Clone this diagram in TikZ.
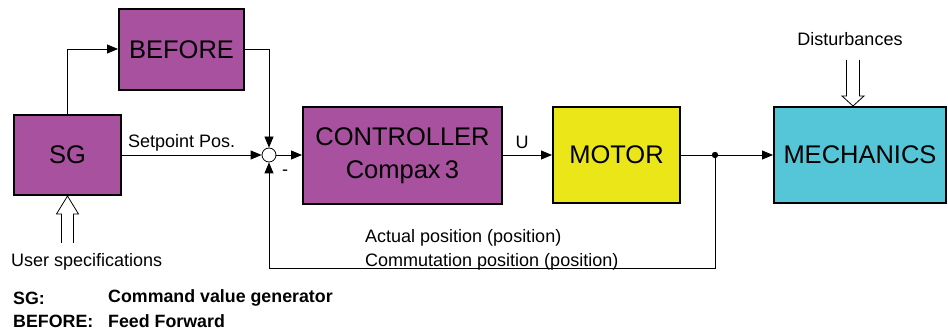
\documentclass[tikz,border=0pt]{standalone}
\usepackage{fontspec}
\setmainfont{Liberation Sans}
\usetikzlibrary{arrows.meta,calc}
\definecolor{purp}{HTML}{A8519F}
\definecolor{yel}{HTML}{EBE617}
\definecolor{cya}{HTML}{55C6D8}
\tikzset{
  blk/.style={draw=black,line width=2pt,inner sep=0pt,font=\fontsize{25.5}{31}\selectfont,align=center},
  conn/.style={line width=0.8pt,-{Triangle[length=11pt,width=9pt]}},
  wire/.style={line width=0.8pt},
  lbl/.style={inner sep=0pt,font=\fontsize{18}{21}\selectfont},
  leg/.style={inner sep=0pt,anchor=west,font=\fontsize{17.8}{21}\selectfont\bfseries},
  hollow/.style={line width=0.8pt,fill=white,draw=black}
}
\begin{document}
\begin{tikzpicture}[x=1pt,y=-1pt]
\useasboundingbox (0,0) rectangle (948,331);
\node[blk,fill=purp,minimum width=107pt,minimum height=80pt] (sg) at (67.5,155) {SG};
\node[blk,fill=purp,minimum width=125pt,minimum height=81pt] (bef) at (181.5,49.5) {BEFORE};
\node[blk,fill=purp,minimum width=199pt,minimum height=97pt] (ctl) at (402.5,155.5) {CONTROLLER\\[2pt]Compax\,3};
\node[blk,fill=yel,minimum width=127pt,minimum height=96pt] (mot) at (616.5,155) {MOTOR};
\node[blk,fill=cya,minimum width=172pt,minimum height=96pt] (mech) at (860,155) {MECHANICS};
\node[circle,draw=black,line width=0.8pt,fill=white,minimum size=14pt,inner sep=0pt] (sum) at (269,155) {};
\coordinate (jn) at (715,155);
\coordinate (fbr) at (715,268);
\coordinate (fbl) at (269,268);
\coordinate (sgup) at (67,49);
\coordinate (befr) at (269,49);
% connectors
\draw[conn] (sg.north -| sgup) -- (sgup) -- (bef.west |- sgup);
\draw[conn] (bef.east |- befr) -- (befr) -- (sum.north);
\draw[conn] (sg.east) -- (sum.west);
\draw[conn] (sum.east) -- (ctl.west |- sum.east);
\draw[conn] (ctl.east |- mot.west) -- (mot.west);
\draw[conn] (mot.east) -- (mech.west);
\draw[conn] (jn) -- (fbr) -- (fbl) -- (sum.south);
\fill (jn) circle (3.2pt);
% hollow arrows
\draw[hollow] ($(sg.south)+(-6,47)$) -- ++(0,-29) -- ++(-5,0) -- (sg.south) -- ++(11,18) -- ++(-5,0) -- ++(0,29);
\coordinate (dtip) at ($(mech.north)+(-7,0)$);
\draw[hollow] ($(dtip)+(-6.5,-46)$) -- ++(0,36) -- ++(-4.5,0) -- (dtip) -- ++(11,-10) -- ++(-4.5,0) -- ++(0,-36);
% labels
\node[lbl,anchor=west] (sp) at (128,143) {Setpoint Pos.};
\node[lbl] (u) at (522,142) {U};
\node[lbl] (minus) at (285,173) {-};
\node[lbl] (dist) at (850,39) {Disturbances};
\node[lbl,anchor=west] (act) at (365,238) {Actual position (position)};
\node[lbl,anchor=west] (com) at (365,262) {Commutation position (position)};
\node[lbl,anchor=west] (usr) at (11,262) {User specifications};
\node[leg] (l1) at (13,298) {SG:};
\node[leg] (l1b) at (108,298) {Command value generator};
\node[leg] (l2) at (13,321) {BEFORE:};
\node[leg] (l2b) at (108,321) {Feed Forward};
\end{tikzpicture}
\end{document}
